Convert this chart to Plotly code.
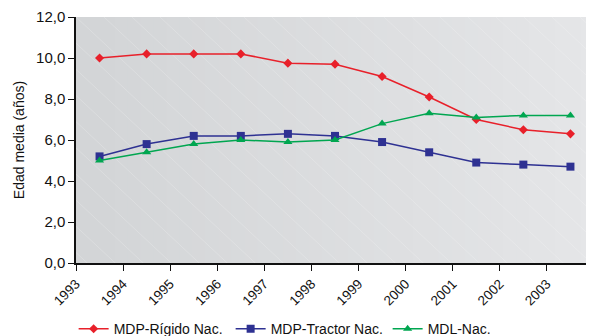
import plotly.graph_objects as go

years = [1993.5, 1994.5, 1995.5, 1996.5, 1997.5, 1998.5, 1999.5, 2000.5, 2001.5, 2002.5, 2003.5]
tick_years = list(range(1993, 2004))
tick_labels = [str(y) for y in tick_years]

rigido = [10.0, 10.2, 10.2, 10.2, 9.75, 9.7, 9.1, 8.1, 7.0, 6.5, 6.3]
tractor = [5.2, 5.8, 6.2, 6.2, 6.3, 6.2, 5.9, 5.4, 4.9, 4.8, 4.7]
mdl = [5.0, 5.4, 5.8, 6.0, 5.9, 6.0, 6.8, 7.3, 7.1, 7.2, 7.2]

names = ["MDP-Rígido Nac.", "MDP-Tractor Nac.", "MDL-Nac."]
colors = ["#e8202a", "#2e3192", "#00a650"]
symbols = ["diamond", "square", "triangle-up"]
msizes = [7, 8, 8]

fig = go.Figure()
for name, vals, col, sym, ms in zip(names, [rigido, tractor, mdl], colors, symbols, msizes):
    fig.add_trace(go.Scatter(x=years, y=vals, name=name, mode="lines+markers",
                             line=dict(color=col, width=1.5),
                             marker=dict(symbol=sym, size=ms, color=col)))

# gradient background (left darker, right lighter)
shapes = []
n = 40
for i in range(n):
    t = i / (n - 1)
    r = int(0xd3 + (0xe5 - 0xd3) * t)
    g = int(0xd5 + (0xe6 - 0xd5) * t)
    b = int(0xd7 + (0xe8 - 0xd7) * t)
    shapes.append(dict(type="rect", xref="x domain", yref="y domain",
                       x0=i / n, x1=(i + 1) / n + 0.002, y0=0, y1=1,
                       fillcolor=f"rgb({r},{g},{b})", line=dict(width=0), layer="below"))
# faint diagonal lines
aspect = 246 / 518
for k in range(-12, 22):
    x0 = k * 28 / 518
    shapes.append(dict(type="line", xref="x domain", yref="y domain",
                       x0=x0, y0=1, x1=x0 + 1.07 * aspect * 2, y1=-1,
                       line=dict(color="rgba(255,255,255,0.2)", width=1), layer="below"))

fig.update_layout(
    width=586, height=328,
    margin=dict(l=68, r=0, t=9, b=73, autoexpand=False),
    paper_bgcolor="white", plot_bgcolor="#dcdde0",
    separators=",.",
    font=dict(family="Liberation Sans, Arial, sans-serif", size=14, color="#111"),
    shapes=shapes,
    showlegend=True,
    legend=dict(orientation="h", xref="container", yref="container",
                x=0.112, xanchor="left", y=0.021, yanchor="middle",
                font=dict(size=14), itemwidth=30, tracegroupgap=0,
                entrywidth=112, entrywidthmode="pixels",
                bgcolor="rgba(0,0,0,0)"),
)
fig.update_xaxes(range=[1993, 2004], tickmode="array", tickvals=tick_years, ticktext=tick_labels,
                 tickangle=-45, ticks="outside", ticklen=6, tickcolor="#111", automargin=False,
                 showline=True, linecolor="#111", linewidth=1.5, showgrid=False, zeroline=False,
                 tickfont=dict(size=13.5))
fig.update_yaxes(range=[0, 12], tickvals=[0, 2, 4, 6, 8, 10, 12], tickformat=".1f",
                 ticks="outside", ticklen=6, tickcolor="#111", automargin=False,
                 showline=True, linecolor="#111", linewidth=1.5, showgrid=False, zeroline=False,
                 title=dict(text="Edad media (años)", standoff=8, font=dict(size=14)),
                 tickfont=dict(size=15))

fig.write_html("out.html")
